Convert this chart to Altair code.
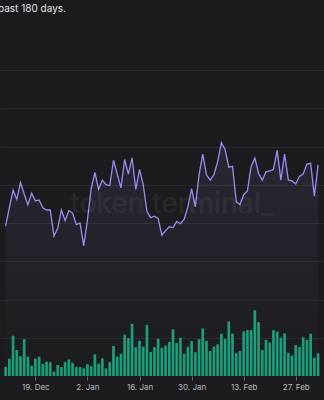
import altair as alt
import pandas as pd

# Daily dates (Dec 11, 2022 .. Mar 5, 2023)
dates = pd.date_range("2022-12-11", "2023-03-05", freq="D").strftime("%Y-%m-%dT00:00:00").tolist()

line_values = [196, 220, 243, 231, 253, 238, 224, 239, 229, 230,
               220, 217, 217, 183, 193, 217, 203, 216, 213, 198,
               200, 170, 204, 245, 266, 244, 256, 250, 249, 282,
               264, 246, 283, 264, 285, 244, 270, 250, 215, 207,
               209, 206, 184, 190, 195, 194, 202, 199, 205, 221,
               245, 221, 263, 290, 263, 256, 263, 280, 305, 296,
               273, 274, 228, 224, 237, 242, 274, 285, 265, 256,
               267, 268, 270, 295, 256, 290, 256, 255, 251, 261,
               264, 277, 278, 235, 276]

bar_values = [36, 68, 158, 102, 78, 144, 76, 40, 68, 76,
              47, 56, 54, 17, 43, 35, 54, 65, 52, 35,
              35, 30, 46, 38, 85, 48, 69, 30, 55, 118,
              76, 87, 162, 149, 205, 113, 138, 115, 200, 94,
              113, 146, 111, 119, 133, 183, 129, 150, 87, 114,
              137, 93, 144, 187, 138, 98, 115, 124, 166, 146,
              214, 166, 90, 98, 175, 180, 180, 258, 211, 102,
              142, 131, 180, 174, 150, 167, 91, 80, 122, 114,
              152, 142, 166, 72, 89]

tick_dates = ["2022-12-19", "2023-01-02", "2023-01-16", "2023-01-30", "2023-02-13", "2023-02-27"]

df = pd.DataFrame({"date": dates, "value": line_values, "count": bar_values})

BG = "#1c1c1e"
LINE = "#9c8cf2"
BAR = "#1a9e7a"

def dt(s, h=0):
    y, m, d = [int(p) for p in s.split("-")]
    return alt.DateTime(year=y, month=m, date=d, hours=h)

xscale = alt.Scale(domain=[dt("2022-12-10", 20), dt("2023-03-05", 6)])
xaxis = alt.Axis(
    values=[dt(s) for s in tick_dates],
    format="%-d. %b",
    labelColor="#b8b8bc",
    labelFont="Inter",
    labelFontSize=8,
    labelPadding=3,
    tickColor="#6a6a70",
    tickSize=4,
    domain=False,
    grid=False,
    title=None,
)

base = alt.Chart(df)

area = base.mark_area(
    line=False,
    color=alt.Gradient(
        gradient="linear",
        stops=[alt.GradientStop(color="rgba(156,140,242,0.10)", offset=0),
               alt.GradientStop(color="rgba(156,140,242,0.0)", offset=1)],
        x1=1, x2=1, y1=0, y2=1,
    ),
).encode(
    x=alt.X("date:T", scale=xscale, axis=xaxis),
    y=alt.Y("value:Q", scale=alt.Scale(domain=[0, 400]),
            axis=alt.Axis(values=[50, 100, 150, 200, 250, 300, 350, 400], grid=True,
                          gridColor="#2b2b2e", gridWidth=1, labels=False, ticks=False,
                          domain=False, title=None)),
)

line = base.mark_line(color=LINE, strokeWidth=1.3).encode(
    x=alt.X("date:T", scale=xscale),
    y=alt.Y("value:Q", scale=alt.Scale(domain=[0, 400])),
)

bars = base.mark_bar(color=BAR, width=2.7).encode(
    x=alt.X("date:T", scale=xscale),
    y=alt.Y("count:Q", scale=alt.Scale(domain=[0, 1200]), axis=None),
)

watermark = alt.Chart(pd.DataFrame({"t": ["token terminal_"]})).mark_text(
    font="Inter", fontSize=28, fontWeight=500, color="#ffffff", opacity=0.05,
    align="center", baseline="alphabetic",
).encode(text="t:N", x=alt.value(172), y=alt.value(143))

title_txt = alt.Chart(pd.DataFrame({"t": ["past 180 days."]})).mark_text(
    font="Inter", fontSize=10, color="#e2e2e6", align="left", baseline="alphabetic",
).encode(text="t:N", x=alt.value(-2), y=alt.value(-58))

lines_layer = alt.layer(area, line)
chart = alt.layer(bars, lines_layer, watermark, title_txt).resolve_scale(y="independent").properties(
    width=324, height=306,
    background=BG,
    padding={"left": 0, "right": 0, "top": 70, "bottom": 24},
    autosize=alt.AutoSizeParams(type="none"),
).configure_view(stroke=None)

chart.save("out.html", embed_options={"renderer": "svg", "actions": False})
